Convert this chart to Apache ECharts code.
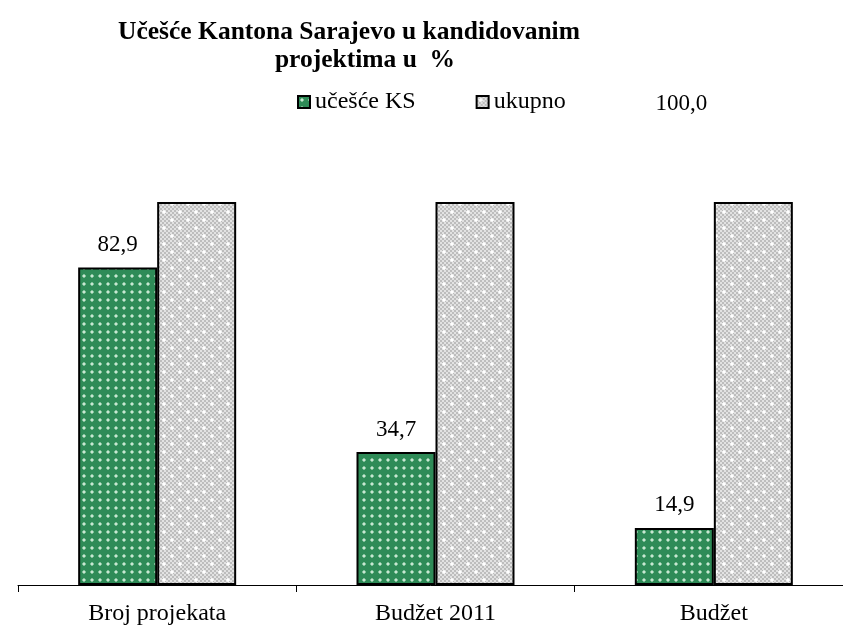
<!DOCTYPE html>
<html>
<head>
<meta charset="utf-8">
<script src="https://cdn.jsdelivr.net/npm/echarts@6/dist/echarts.min.js"></script>
<style>html,body{margin:0;padding:0;background:#fff}#c{width:843px;height:630px}</style>
</head>
<body>
<div id="c"></div>
<script>
var categories = ['Broj projekata', 'Budžet 2011', 'Budžet'];
var seriesNames = ['učešće KS', 'ukupno'];
var ucesceKS = [82.9, 34.7, 14.9];
var ukupno = [100, 100, 100];
var titleLines = ['Učešće Kantona Sarajevo u kandidovanim', 'projektima u  %'];

function makeGreen() {
  var c = document.createElement('canvas'); c.width = 8; c.height = 8;
  var g = c.getContext('2d');
  g.fillStyle = '#2e8b57'; g.fillRect(0, 0, 8, 8);
  g.fillStyle = '#c8e6d2'; g.fillRect(3, 3, 2, 2);
  g.fillStyle = '#7fbf98'; g.fillRect(2, 3, 1, 2); g.fillRect(5, 3, 1, 2); g.fillRect(3, 2, 2, 1); g.fillRect(3, 5, 2, 1);
  return c;
}
function makeGrey() {
  var c = document.createElement('canvas'); c.width = 16; c.height = 16;
  var g = c.getContext('2d');
  for (var y = 0; y < 16; y += 2) for (var x = 0; x < 16; x += 2) {
    g.fillStyle = ((x + y) / 2) % 2 === 0 ? '#bdbdbd' : '#e2e2e2';
    g.fillRect(x, y, 2, 2);
  }
  function dot(px, py) {
    g.fillStyle = '#ffffff'; g.fillRect(px, py, 2, 2);
    g.fillStyle = '#f2f2f2'; g.fillRect(px - 1, py, 1, 2); g.fillRect(px + 2, py, 1, 2); g.fillRect(px, py - 1, 2, 1); g.fillRect(px, py + 2, 2, 1);
  }
  dot(3, 3); dot(11, 11);
  return c;
}
function fmt(v) { return v.toFixed(1).replace('.', ','); }

var font = 'Liberation Serif';
var chart = echarts.init(document.getElementById('c'));
var ukupnoData = ukupno.map(function (v, i) {
  if (i === ukupno.length - 1) {
    return { value: v, label: { show: true, offset: [-72, -82] } };
  }
  return v;
});
var titleStyle = { fontFamily: font, fontWeight: 'bold', fontSize: 25.5, color: '#000' };
chart.setOption({
  animation: false,
  title: [
    { text: titleLines[0], left: 349, top: 19, textAlign: 'center', padding: 0, textStyle: titleStyle },
    { text: titleLines[1], left: 365, top: 47, textAlign: 'center', padding: 0, textStyle: titleStyle }
  ],
  legend: {
    left: 297, top: 90, padding: 0, itemGap: 60,
    itemWidth: 12, itemHeight: 12, icon: 'rect',
    textStyle: { fontFamily: font, fontSize: 24, color: '#000' },
    data: seriesNames
  },
  grid: { left: 18, width: 835, top: 202, bottom: 45, containLabel: false, outerBoundsMode: 'none' },
  xAxis: {
    type: 'category', data: categories,
    axisLine: { lineStyle: { color: '#000', width: 1 } },
    axisTick: { show: true, length: 7, lineStyle: { color: '#000' } },
    axisLabel: { fontFamily: font, fontSize: 24, color: '#000', margin: 17 }
  },
  yAxis: { type: 'value', min: 0, max: 100, show: false, splitLine: { show: false } },
  series: [
    {
      name: seriesNames[0], type: 'bar', data: ucesceKS, barWidth: 79, barGap: '0%',
      itemStyle: { color: { image: makeGreen(), repeat: 'repeat' }, borderColor: '#000', borderWidth: 2 },
      label: { show: true, position: 'top', distance: 11, fontFamily: font, fontSize: 23, color: '#000', formatter: function (p) { return fmt(p.value); } }
    },
    {
      name: seriesNames[1], type: 'bar', data: ukupnoData, barWidth: 79,
      itemStyle: { color: { image: makeGrey(), repeat: 'repeat' }, borderColor: '#000', borderWidth: 2 },
      label: { show: false, position: 'top', distance: 5, fontFamily: font, fontSize: 23, color: '#000', formatter: function (p) { return fmt(p.value); } }
    }
  ]
});
</script>
</body>
</html>
